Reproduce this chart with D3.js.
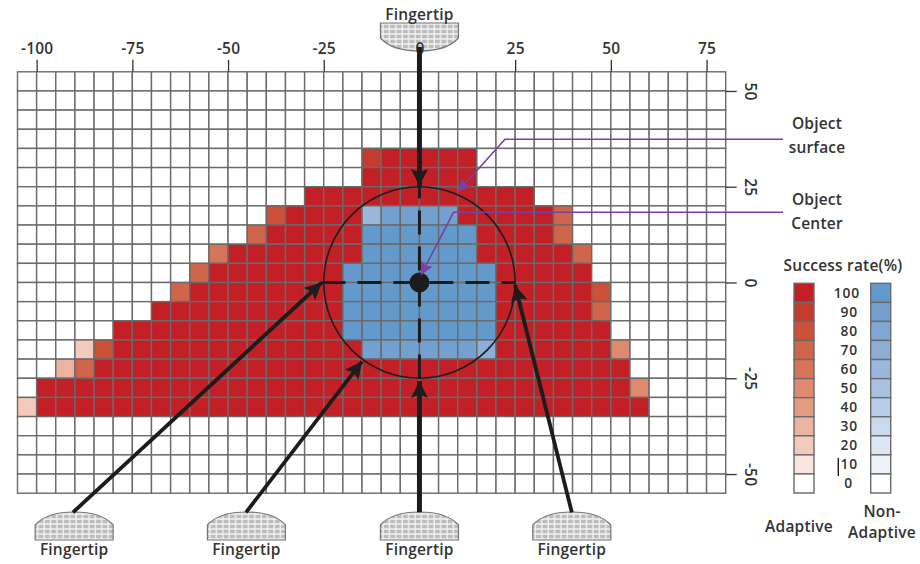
<!DOCTYPE html>
<html>
<head>
<meta charset="utf-8">
<script src="https://cdn.jsdelivr.net/npm/d3@7"></script>
<style>
  html, body { margin: 0; padding: 0; background: #fff; }
  svg { display: block; }
  text { font-family: "Open Sans", sans-serif; font-weight: 600; fill: #333; font-size: 15.5px; letter-spacing: 0.2px; }
  text.rate { font-size: 13.8px; letter-spacing: 0.9px; }
</style>
</head>
<body>
<svg id="chart" width="920" height="564"></svg>
<script>
// success rate per cell, one string per row from y = 55 down to y = -55
// one char per 5 unit column from x = -105, digit = rate / 10, X = 100, . = 0
const adaptiveRows = [
  '.....................................',
  '.....................................',
  '.....................................',
  '.....................................',
  '..................9XXXXX.............',
  '..................XXXXXX.............',
  '...............XXXXXXXXXXXX..........',
  '.............8XXXX.....XXXXX7........',
  '............7XXXXX......XXXX7........',
  '..........6XXXXXXX......XXXXX7.......',
  '.........7XXXXXXX........XXXXX.......',
  '........7XXXXXXXX........XXXXX8......',
  '.......XXXXXXXXXX........XXXXX7......',
  '.....XXXXXXXXXXXX........XXXXXX......',
  '...28XXXXXXXXXXXXX.......XXXXXX5.....',
  '..37XXXXXXXXXXXXXXXXXXXXXXXXXXXX.....',
  '.XXXXXXXXXXXXXXXXXXXXXXXXXXXXXXX5....',
  '2XXXXXXXXXXXXXXXXXXXXXXXXXXXXXXXX....',
  '.....................................',
  '.....................................',
  '.....................................',
  '.....................................'
]
const nonAdaptiveRows = [
  '.....................................',
  '.....................................',
  '.....................................',
  '.....................................',
  '.....................................',
  '.....................................',
  '.....................................',
  '..................69999..............',
  '..................XXXXXX.............',
  '..................XXXXXX.............',
  '.................XXXXXXXX............',
  '.................XXXXXXXX............',
  '.................XXXXXXXX............',
  '.................XXXXXXXX............',
  '..................9999997............',
  '.....................................',
  '.....................................',
  '.....................................',
  '.....................................',
  '.....................................',
  '.....................................',
  '.....................................'
]
const xTicks = [-100, -75, -50, -25, 0, 25, 50, 75]
const yTicks = [50, 25, 0, -25, -50]
const rateLevels = [100, 90, 80, 70, 60, 50, 40, 30, 20, 10, 0]
const adaptiveColors = ['#c21f26', '#c43c2f', '#cb5138', '#cf654b', '#d6745a', '#df8a6f', '#e59d82', '#ecb4a0', '#f3cabb', '#f9e6df', '#ffffff']
const nonAdaptiveColors = ['#6399cb', '#73a0cf', '#7ea8d3', '#8daed7', '#9bb7dc', '#a9c0e0', '#b9cce5', '#cbd9ec', '#dde6f3', '#edf2f9', '#ffffff']
// object size in plot units
const objectRadius = 25
// fingertip arrows in plot units, from the pad to the object
const fingerArrows = [
  {from: [-90.5, -60], to: [-25.5, 0]},
  {from: [-45.3, -60], to: [-15, -20.6]},
  {from: [0, -60], to: [0, -25.7]},
  {from: [39.8, -60], to: [25, -0.7]},
  {from: [0, 61.5], to: [0, 25.2]}
]

function makeChart() {
  const svg = d3.select('#chart')
  const cellUnits = 5
  const grey = '#6a6a6a'
  const dark = '#1c1c1c'
  const purple = '#7b3fa5'

  const scaleX = d3.scaleLinear().domain([-105, 80]).range([17.5, 725.7])
  const scaleY = d3.scaleLinear().domain([55, -55]).range([71.8, 493.2])
  const scaleAdaptive = d3.scaleOrdinal().domain(rateLevels).range(adaptiveColors)
  const scaleNonAdaptive = d3.scaleOrdinal().domain(rateLevels).range(nonAdaptiveColors)
  const parseRate = c => c === '.' ? 0 : c === 'X' ? 100 : +c * 10

  // merging both tables into a cell list
  const cells = []
  adaptiveRows.forEach((row, r) => {
    row.split('').forEach((c, i) => {
      const blue = parseRate(nonAdaptiveRows[r][i])
      cells.push({
        x: -105 + i * cellUnits,
        y: 55 - r * cellUnits,
        color: blue ? scaleNonAdaptive(blue) : scaleAdaptive(parseRate(c))
      })
    })
  })

  const defs = svg.append('defs')
  // hatch of the fingertip pads
  const hatch = defs.append('pattern')
    .attr('id', 'hatch')
    .attr('width', 6.4)
    .attr('height', 5)
    .attr('patternUnits', 'userSpaceOnUse')
  hatch.append('rect').attr('width', 6.4).attr('height', 5).attr('fill', '#bdbdbd')
  hatch.append('path').attr('d', 'M2 0V5M0 2H6.4').attr('stroke', '#f2f2f2').attr('stroke-width', 1.4)

  // arrow heads
  const marker = (id, color, size) => defs.append('marker')
    .attr('id', id)
    .attr('markerUnits', 'userSpaceOnUse')
    .attr('viewBox', '0 0 10 10')
    .attr('refX', 10)
    .attr('refY', 5)
    .attr('markerWidth', size)
    .attr('markerHeight', size)
    .attr('orient', 'auto')
    .append('path')
    .attr('d', 'M0 0L10 5L0 10L2 5Z')
    .attr('fill', color)
  marker('head', dark, 17)
  marker('headPurple', purple, 13)

  // heatmap cells
  svg.append('g').selectAll('rect')
    .data(cells)
    .enter()
    .append('rect')
    .attr('x', d => scaleX(d.x))
    .attr('y', d => scaleY(d.y))
    .attr('width', scaleX(cellUnits) - scaleX(0))
    .attr('height', scaleY(0) - scaleY(cellUnits))
    .attr('fill', d => d.color)
    .attr('stroke', grey)
    .attr('stroke-width', 1.4)

  // fingertip pads, dome towards the object
  const pad = svg.append('g')
  const padPath = 'M-39 28V13C-30 3 -14 0 0 0C14 0 30 3 39 13V28Z'
  const padX = [scaleX(-90.2), scaleX(-45.2), scaleX(0), scaleX(39.8)]
  padX.forEach(x => {
    pad.append('path')
      .attr('d', padPath)
      .attr('transform', `translate(${x},512)`)
      .attr('fill', 'url(#hatch)')
      .attr('stroke', '#777')
      .attr('stroke-width', 1.2)
    pad.append('text')
      .attr('x', x)
      .attr('y', 555)
      .attr('text-anchor', 'middle')
      .text('Fingertip')
  })
  pad.append('path')
    .attr('d', padPath)
    .attr('transform', `translate(${scaleX(0)},51) scale(1,-1)`)
    .attr('fill', 'url(#hatch)')
    .attr('stroke', '#777')
    .attr('stroke-width', 1.2)
  pad.append('text')
    .attr('x', scaleX(0))
    .attr('y', 20)
    .attr('text-anchor', 'middle')
    .text('Fingertip')

  // axes, plain hyphen in the labels like the original
  const axisX = d3.axisTop(scaleX)
    .tickValues(xTicks)
    .tickSize(12)
    .tickPadding(6)
    .tickFormat(d => String(d))
  const axisY = d3.axisRight(scaleY)
    .tickValues(yTicks)
    .tickSize(11)
    .tickPadding(0)
    .tickFormat(d => String(d))
  const gx = svg.append('g')
    .attr('transform', `translate(0,${scaleY.range()[0]})`)
    .call(axisX)
  const gy = svg.append('g')
    .attr('transform', `translate(${scaleX.range()[1]},0)`)
    .call(axisY)
  svg.selectAll('.domain').remove()
  svg.selectAll('.tick line').attr('stroke', '#333').attr('stroke-width', 1.3)
  gx.attr('font-family', null).attr('font-size', null)
  gy.attr('font-family', null).attr('font-size', null)
  gy.selectAll('text')
    .attr('text-anchor', 'middle')
    .attr('dy', null)
    .attr('x', null)
    .attr('transform', 'translate(25,0) rotate(90)')
    .attr('dominant-baseline', 'central')
  svg.selectAll('.tick text').style('fill', '#333')

  // object outline
  const object = svg.append('g')
  object.append('circle')
    .attr('cx', scaleX(0))
    .attr('cy', scaleY(0))
    .attr('r', scaleX(objectRadius) - scaleX(0))
    .attr('fill', 'none')
    .attr('stroke', dark)
    .attr('stroke-width', 1.6)
  // dashed cross through the center
  object.append('line')
    .attr('x1', scaleX(-25.6))
    .attr('x2', scaleX(25))
    .attr('y1', scaleY(0))
    .attr('y2', scaleY(0))
    .attr('stroke', dark)
    .attr('stroke-width', 3)
    .attr('stroke-dasharray', '24 12')
  object.append('line')
    .attr('x1', scaleX(0))
    .attr('x2', scaleX(0))
    .attr('y1', scaleY(28.2))
    .attr('y2', scaleY(-25))
    .attr('stroke', dark)
    .attr('stroke-width', 3)
    .attr('stroke-dasharray', '24 12')
  object.append('circle')
    .attr('cx', scaleX(0))
    .attr('cy', scaleY(0))
    .attr('r', 10)
    .attr('fill', dark)

  // fingertip arrows
  svg.append('g').selectAll('line')
    .data(fingerArrows)
    .enter()
    .append('line')
    .attr('x1', d => scaleX(d.from[0]))
    .attr('y1', d => scaleY(d.from[1]))
    .attr('x2', d => scaleX(d.to[0]))
    .attr('y2', d => scaleY(d.to[1]))
    .attr('stroke', dark)
    .attr('stroke-width', d => d.from[0] === 0 ? 5 : 3.8)
    .attr('marker-end', 'url(#head)')

  // purple leaders
  const leader = d3.line()
  const leaders = [
    [[783, 139.3], [505, 139.3], [458, 191.5]],
    [[783, 212.3], [453.5, 212.3], [421, 275]]
  ]
  svg.append('g').selectAll('path')
    .data(leaders)
    .enter()
    .append('path')
    .attr('d', leader)
    .attr('fill', 'none')
    .attr('stroke', purple)
    .attr('stroke-width', 1.6)
    .attr('marker-end', 'url(#headPurple)')

  // right side labels
  const notes = [
    ['Object', 817, 129], ['surface', 817, 153],
    ['Object', 817, 205], ['Center', 817, 229],
    ['Success rate(%)', 843, 271],
    ['Adaptive', 799, 532],
    ['Non-', 882, 517], ['Adaptive', 882, 538]
  ]
  svg.append('g').selectAll('text')
    .data(notes)
    .enter()
    .append('text')
    .attr('x', d => d[1])
    .attr('y', d => d[2])
    .attr('text-anchor', 'middle')
    .text(d => d[0])

  // legend columns
  const scaleLegend = d3.scaleBand().domain(rateLevels).range([283.3, 493])
  const legendColumn = (x, scale) => svg.append('g').selectAll('rect')
    .data(rateLevels)
    .enter()
    .append('rect')
    .attr('x', x)
    .attr('y', d => scaleLegend(d))
    .attr('width', 20)
    .attr('height', scaleLegend.bandwidth())
    .attr('fill', d => scale(d))
    .attr('stroke', grey)
    .attr('stroke-width', 1.4)
  legendColumn(794, scaleAdaptive)
  legendColumn(870.7, scaleNonAdaptive)

  svg.append('g').selectAll('text')
    .data(rateLevels)
    .enter()
    .append('text')
    .attr('class', 'rate')
    .attr('x', d => d === 0 ? 853 : d === 100 ? 860 : 858)
    .attr('y', d => scaleLegend(d) + scaleLegend.bandwidth() / 2)
    .attr('dy', '0.35em')
    .attr('text-anchor', 'end')
    .text(d => d)

  // stray bar in front of the 10 label
  svg.append('line')
    .attr('x1', 838.3)
    .attr('x2', 838.3)
    .attr('y1', 458)
    .attr('y2', 476)
    .attr('stroke', dark)
    .attr('stroke-width', 1.4)
}

window.onload = makeChart
</script>
</body>
</html>
